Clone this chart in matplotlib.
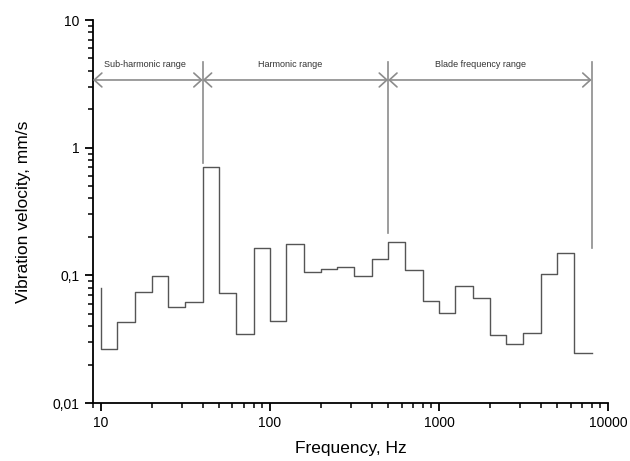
import matplotlib
matplotlib.use("Agg")
import matplotlib.pyplot as plt
from matplotlib.ticker import FixedLocator, FixedFormatter, LogLocator, NullFormatter

plt.rcParams['font.family'] = ['Liberation Sans', 'DejaVu Sans']

# 1/3-octave band edges (Hz) and band levels (mm/s), drawn as steps
freq = [10, 12.5, 16, 20, 25, 31.5, 40, 50, 63, 80, 100, 125, 160, 200, 250,
        315, 400, 500, 630, 800, 1000, 1250, 1600, 2000, 2500, 3150, 4000,
        5000, 6300, 8000]
velocity = [0.080, 0.0265, 0.0434, 0.0746, 0.0989, 0.0566, 0.0622, 0.71,
            0.0724, 0.0346, 0.165, 0.044, 0.175, 0.107, 0.113, 0.116, 0.0995,
            0.134, 0.183, 0.110, 0.0627, 0.0511, 0.0826, 0.0662, 0.0341,
            0.029, 0.0356, 0.102, 0.150, 0.0247]

# range annotations
range_names = ["Sub-harmonic range", "Harmonic range", "Blade frequency range"]
range_bounds = [8.97, 40, 500, 8000]
range_label_x = [18.2, 131, 1750]
divider_bottom = [0.76, 0.215, 0.164]
arrow_y = 3.39
divider_top = 4.69
label_y = 4.15

y_ticks = [0.01, 0.1, 1, 10]
y_tick_labels = ["0,01", "0,1", "1", "10"]
x_ticks = [10, 100, 1000, 10000]
x_tick_labels = ["10", "100", "1000", "10000"]

fig = plt.figure(figsize=(6.3, 4.61), dpi=100)
ax = fig.add_axes([0.1476, 0.1258, 0.9651 - 0.1476, 0.9566 - 0.1258])

ax.plot(freq, velocity, drawstyle='steps-pre', color='#555555', lw=1.0)

acol = '#8c8c8c'
for i in range(3):
    ax.annotate('', xy=(range_bounds[i + 1], arrow_y), xytext=(range_bounds[i], arrow_y),
                arrowprops=dict(arrowstyle='<->,head_length=0.55,head_width=0.5',
                                color=acol, lw=1.2, shrinkA=0, shrinkB=0,
                                mutation_scale=10))
    ax.text(range_label_x[i], label_y, range_names[i], ha='center', va='bottom',
            fontsize=6.5, color='#333333')
for xb, yb in zip(range_bounds[1:], divider_bottom):
    ax.plot([xb, xb], [yb, divider_top], color=acol, lw=1.2)

ax.set_xscale('log')
ax.set_yscale('log')
ax.set_xlim(8.97, 10000)
ax.set_ylim(0.01, 10)

ax.xaxis.set_major_locator(FixedLocator(x_ticks))
ax.xaxis.set_major_formatter(FixedFormatter(x_tick_labels))
ax.xaxis.set_minor_locator(LogLocator(base=10, subs=range(2, 10), numticks=20))
ax.xaxis.set_minor_formatter(NullFormatter())
ax.yaxis.set_major_locator(FixedLocator(y_ticks))
ax.yaxis.set_major_formatter(FixedFormatter(y_tick_labels))
ax.yaxis.set_minor_locator(LogLocator(base=10, subs=range(2, 10), numticks=20))
ax.yaxis.set_minor_formatter(NullFormatter())

for s in ['top', 'right']:
    ax.spines[s].set_visible(False)
for s in ['left', 'bottom']:
    ax.spines[s].set_linewidth(1.3)
    ax.spines[s].set_color('black')

ax.tick_params(which='major', direction='out', length=6, width=1.3, labelsize=10)
ax.tick_params(which='minor', direction='out', length=3.5, width=1.1)

ax.set_xlabel("Frequency, Hz", fontsize=12.5, labelpad=8)
ax.set_ylabel("Vibration velocity, mm/s", fontsize=12.5, labelpad=16)

fig.savefig("out.png", dpi=100)
